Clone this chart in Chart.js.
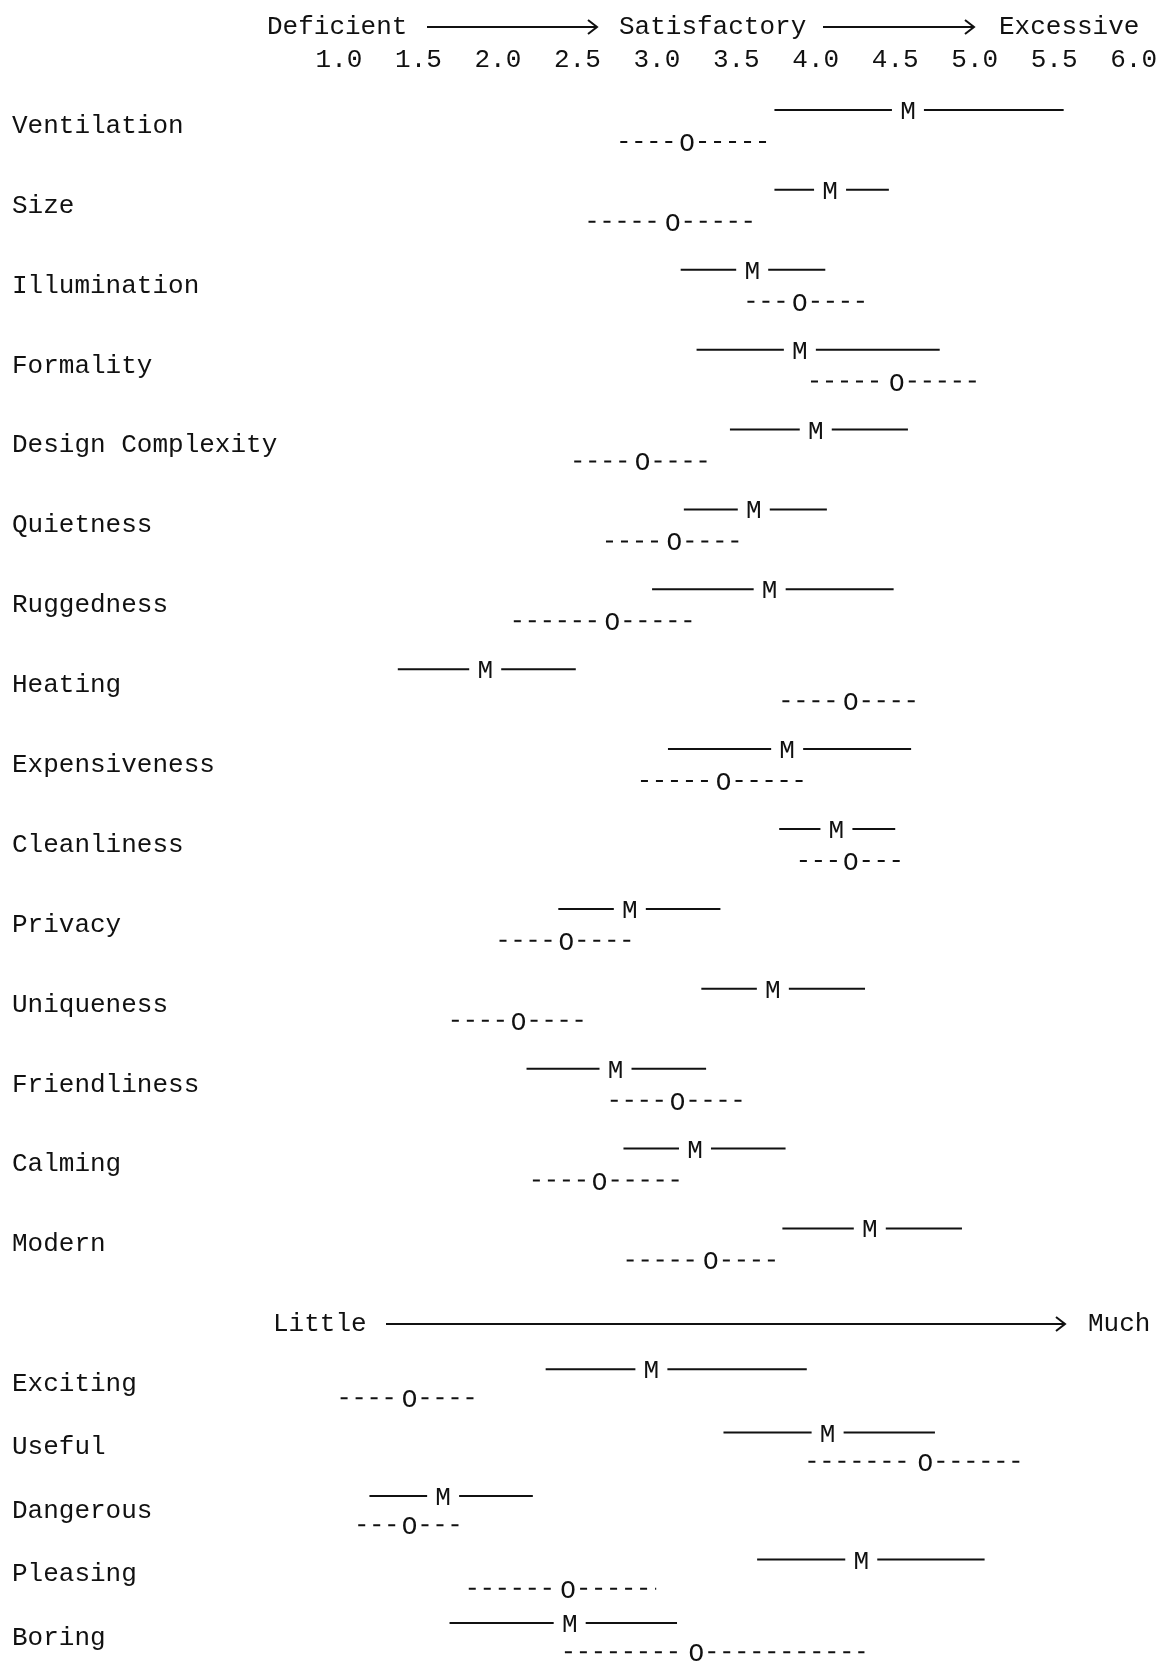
<!DOCTYPE html>
<html>
<head>
<meta charset="utf-8">
<script src="https://cdn.jsdelivr.net/npm/chart.js@4.4.1/dist/chart.umd.min.js"></script>
<style>
  html, body { margin: 0; padding: 0; background: #fff; }
  #wrap { position: relative; width: 1167px; height: 1673px; overflow: hidden; }
  canvas { position: absolute; left: 0; }
  #top { top: 0; }
  #bottom { top: 1300px; }
</style>
</head>
<body>
<div id="wrap">
  <canvas id="top" width="1167" height="1300"></canvas>
  <canvas id="bottom" width="1167" height="385"></canvas>
</div>
<script>
"use strict";

// scale ticks shown across the top
const scaleTicks = [1.0, 1.5, 2.0, 2.5, 3.0, 3.5, 4.0, 4.5, 5.0, 5.5, 6.0];

// upper block: Deficient -> Satisfactory -> Excessive
const topCats = ["Ventilation", "Size", "Illumination", "Formality", "Design Complexity",
    "Quietness", "Ruggedness", "Heating", "Expensiveness", "Cleanliness",
    "Privacy", "Uniqueness", "Friendliness", "Calming", "Modern"];
const topMLow  = [3.74, 3.74, 3.15, 3.25, 3.46, 3.17, 2.97, 1.37, 3.07, 3.77, 2.38, 3.28, 2.18, 2.79, 3.79];
const topM     = [4.58, 4.09, 3.60, 3.90, 4.00, 3.61, 3.71, 1.92, 3.82, 4.13, 2.83, 3.73, 2.74, 3.24, 4.34];
const topMHigh = [5.56, 4.46, 4.06, 4.78, 4.58, 4.07, 4.49, 2.49, 4.60, 4.50, 3.40, 4.31, 3.31, 3.81, 4.92];
const topOLow  = [2.77, 2.57, 3.57, 3.97, 2.48, 2.68, 2.10, 3.79, 2.90, 3.90, 2.01, 1.71, 2.71, 2.22, 2.81];
const topO     = [3.19, 3.10, 3.90, 4.51, 2.91, 3.11, 2.72, 4.22, 3.42, 4.22, 2.43, 2.13, 3.13, 2.64, 3.34];
const topOHigh = [3.73, 3.63, 4.34, 5.04, 3.35, 3.55, 3.26, 4.66, 3.96, 4.57, 2.87, 2.57, 3.57, 3.18, 3.78];

// lower block: Little -> Much
const botCats = ["Exciting", "Useful", "Dangerous", "Pleasing", "Boring"];
const botMLow  = [2.29, 3.40, 1.19, 3.61, 1.69];
const botM     = [2.95, 4.05, 1.65, 4.26, 2.44];
const botMHigh = [3.92, 4.72, 2.21, 5.03, 3.11];
const botOLow  = [1.01, 3.93, 1.12, 1.81, 2.41];
const botO     = [1.44, 4.66, 1.44, 2.43, 3.23];
const botOHigh = [1.88, 5.28, 1.79, 2.98, 4.28];

const INK = "#111";
const FONT = '"Liberation Mono", "DejaVu Sans Mono", monospace';
const FSIZE = 26;

function pairs(lo, hi) {
    return lo.map((v, i) => [v, hi[i]]);
}

function hLine(ctx, x1, x2, y) {
    if (x2 <= x1) return;
    ctx.beginPath();
    ctx.moveTo(x1, y);
    ctx.lineTo(x2, y);
    ctx.stroke();
}

function arrow(ctx, x1, x2, y) {
    ctx.save();
    ctx.lineWidth = 2;
    ctx.setLineDash([]);
    hLine(ctx, x1, x2, y);
    ctx.beginPath();
    ctx.moveTo(x2 - 9, y - 7);
    ctx.lineTo(x2, y);
    ctx.lineTo(x2 - 9, y + 7);
    ctx.stroke();
    ctx.restore();
}

// draws the "—— M ——" and "----O----" marks from the floating bar elements
function markPlugin(mMid, oMid) {
    return {
        id: "marks",
        afterDatasetsDraw(chart) {
            const ctx = chart.ctx;
            const xs = chart.scales.x;
            ctx.save();
            ctx.strokeStyle = INK;
            ctx.fillStyle = INK;
            ctx.font = `${FSIZE}px ${FONT}`;
            ctx.textAlign = "center";
            ctx.textBaseline = "alphabetic";
            [[0, mMid, "M", 16], [1, oMid, "O", 12]].forEach(([d, mids, letter, gap]) => {
                const meta = chart.getDatasetMeta(d);
                const data = chart.data.datasets[d].data;
                meta.data.forEach((el, i) => {
                    const y = el.y;
                    const a = xs.getPixelForValue(data[i][0]);
                    const b = xs.getPixelForValue(data[i][1]);
                    const c = xs.getPixelForValue(mids[i]);
                    ctx.lineWidth = 2;
                    ctx.setLineDash(d === 0 ? [] : [7, 8]);
                    hLine(ctx, a, c - gap, y);
                    hLine(ctx, c + gap, b, y);
                    ctx.setLineDash([]);
                    ctx.fillText(letter, c, y + 9);
                });
            });
            ctx.restore();
        },
    };
}

const topHeader = {
    id: "topHeader",
    afterDraw(chart) {
        const ctx = chart.ctx;
        ctx.save();
        ctx.fillStyle = INK;
        ctx.strokeStyle = INK;
        ctx.font = `${FSIZE}px ${FONT}`;
        ctx.textBaseline = "middle";
        ctx.textAlign = "left";
        const y = 27;
        ctx.fillText("Deficient", 267, y);
        arrow(ctx, 427, 597, y);
        ctx.fillText("Satisfactory", 619, y);
        arrow(ctx, 823, 974, y);
        ctx.fillText("Excessive", 999, y);
        ctx.restore();
    },
};

const botHeader = {
    id: "botHeader",
    afterDraw(chart) {
        const ctx = chart.ctx;
        ctx.save();
        ctx.fillStyle = INK;
        ctx.strokeStyle = INK;
        ctx.font = `${FSIZE}px ${FONT}`;
        ctx.textBaseline = "middle";
        ctx.textAlign = "left";
        const y = 24;
        ctx.fillText("Little", 273, y);
        arrow(ctx, 386, 1065, y);
        ctx.fillText("Much", 1088, y);
        ctx.restore();
    },
};

function makeChart(canvas, cats, mLow, m, mHigh, oLow, o, oHigh, showTicks, padding, catPct, header) {
    return new Chart(canvas, {
        type: "bar",
        data: {
            labels: cats,
            datasets: [
                { label: "M", data: pairs(mLow, mHigh), backgroundColor: "rgba(0,0,0,0)", borderWidth: 0 },
                { label: "O", data: pairs(oLow, oHigh), backgroundColor: "rgba(0,0,0,0)", borderWidth: 0 },
            ],
        },
        options: {
            indexAxis: "y",
            responsive: false,
            animation: false,
            datasets: { bar: { categoryPercentage: catPct, barPercentage: 1 } },
            layout: { padding: padding },
            plugins: { legend: { display: false }, tooltip: { enabled: false } },
            scales: {
                x: {
                    type: "linear",
                    position: "top",
                    min: 1,
                    max: 6,
                    display: showTicks,
                    afterBuildTicks: (s) => { s.ticks = scaleTicks.map((v) => ({ value: v })); },
                    afterFit: (s) => { s.height = showTicks ? 86 : 0; },
                    grid: { display: false, drawTicks: false },
                    border: { display: false },
                    ticks: {
                        color: INK,
                        padding: 10,
                        maxRotation: 0,
                        font: { family: FONT, size: FSIZE },
                        callback: (v) => Number(v).toFixed(1),
                    },
                },
                y: {
                    type: "category",
                    position: "left",
                    afterFit: (s) => { s.width = 327; },
                    grid: { display: false, drawTicks: false },
                    border: { display: false },
                    ticks: {
                        color: INK,
                        crossAlign: "far",
                        padding: 0,
                        font: { family: FONT, size: FSIZE },
                    },
                },
            },
        },
        plugins: [markPlugin(m, o), header],
    });
}

makeChart(document.querySelector("#top"), topCats, topMLow, topM, topMHigh, topOLow, topO, topOHigh,
    true, { top: 0, left: 12, right: 27, bottom: 0 }, 0.8, topHeader);

makeChart(document.querySelector("#bottom"), botCats, botMLow, botM, botMHigh, botOLow, botO, botOHigh,
    false, { top: 52, left: 12, right: 27, bottom: 0 }, 0.92, botHeader);
</script>
</body>
</html>
